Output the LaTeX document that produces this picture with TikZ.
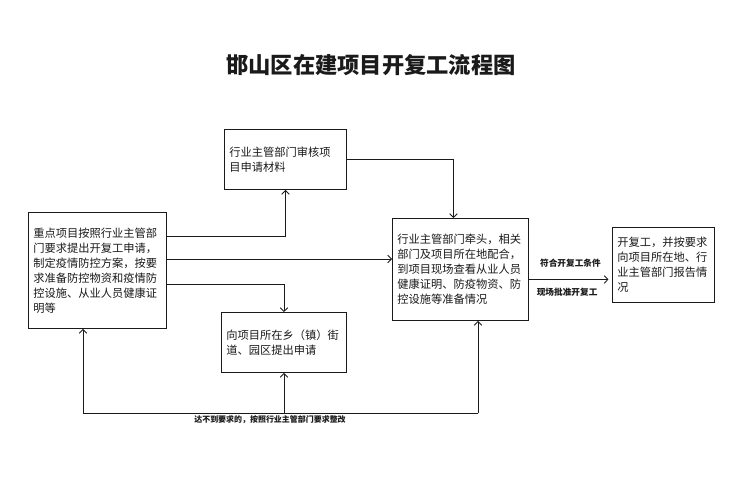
\documentclass[tikz,border=0pt]{standalone}
\usepackage{fontspec}
\newfontfamily\cjk{Noto Sans CJK SC}
\usetikzlibrary{arrows.meta,positioning,calc}
\definecolor{Ink}{HTML}{1A1A1A}
\definecolor{Paper}{HTML}{FFFFFF}
\tikzset{
  every picture/.append style={font=\cjk, >=Straight Barb},
  bx/.style={rectangle, draw=Ink, fill=Paper, line width=0.8pt, align=left, anchor=north west,
             inner xsep=0.15cm, inner ysep=2pt, text=Ink,
             font=\cjk\fontsize{9.6pt}{12.8pt}\selectfont},
  flow/.style={-{Straight Barb[length=3.2pt,width=6.5pt]}, line width=0.7pt, draw=Ink},
  lbl/.style={font=\cjk\fontsize{7.4pt}{8pt}\selectfont\bfseries, text=Ink, inner sep=1pt},
  ttl/.style={font=\cjk\fontsize{19pt}{22pt}\selectfont\bfseries, text=Ink},
}
\begin{document}
\begin{tikzpicture}[x=1cm,y=1cm]

% ---------------- canvas and title ----------------------------------------------------------
\fill[Paper] (0,0) rectangle (22.5,-14.58);
\useasboundingbox (0,0) rectangle (22.5,-14.58);
\node[ttl] (title) at (11.13,-1.95) {邯山区在建项目开复工流程图};

% ---------------- boxes -----------------------------------------------------------------------
\node[bx, text width=3.84cm, minimum height=3.48cm] (A) at (0.84,-6.36)
  {重点项目按照行业主管部\\门要求提出开复工申请，\\制定疫情防控方案，按要\\求准备防控物资和疫情防\\控设施、从业人员健康证\\明等};
\node[bx, text width=3.36cm, minimum height=1.8cm] (B) at (6.72,-3.87)
  {行业主管部门审核项\\目申请材料};
\node[bx, text width=3.45cm, minimum height=1.8cm] (D) at (6.63,-9.36)
  {向项目所在乡（镇）街\\道、园区提出申请};
\node[bx, text width=3.78cm, minimum height=3.06cm] (C) at (11.76,-6.54)
  {行业主管部门牵头，相关\\部门及项目所在地配合，\\到项目现场查看从业人员\\健康证明、防疫物资、防\\控设施等准备情况};
\node[bx, text width=2.76cm, minimum height=2.25cm] (E) at (18.36,-6.81)
  {开复工，并按要求\\向项目所在地、行\\业主管部门报告情\\况};

% ---------------- connectors ------------------------------------------------------------------
\draw[flow] ($(A.north east)+(0,-0.72)$) -| (B.south);
\coordinate (am) at ($(A.north east)+(0,-1.41)$);
\draw[flow] (am) -- (am -| C.west);
\draw[flow] ($(A.north east)+(0,-2.16)$) -| (D.north);
\draw[flow] (B.east) -| ($(C.north)+(-0.21,0)$);

\coordinate (ce) at ($(C.east)+(0,-0.3)$);
\draw[flow, shorten >=3pt] (ce) -- (ce -| E.west)
  node[lbl, midway, above=0.32cm] (lok) {符合开复工条件}
  node[lbl, midway, below=0.22cm, xshift=-0.1cm] (lgo) {现场批准开复工};

% ---------------- rectification loop ----------------------------------------------------------
\coordinate (fbL) at (2.49,-12.39);
\coordinate (fbR) at (14.34,-12.39);
\coordinate (fbM) at (D.south |- fbL);
\draw[line width=0.7pt, draw=Ink] (fbL) -- (fbR);
\draw[flow] (fbL) -- (fbL |- A.south);
\draw[flow] (fbM) -- (D.south);
\draw[flow] (fbR) -- (fbR |- C.south);
\node[lbl, font=\cjk\fontsize{6.8pt}{7.5pt}\selectfont\bfseries, anchor=north] (fix) at (8.1,-12.43)
  {达不到要求的，按照行业主管部门要求整改};

\end{tikzpicture}
\end{document}
